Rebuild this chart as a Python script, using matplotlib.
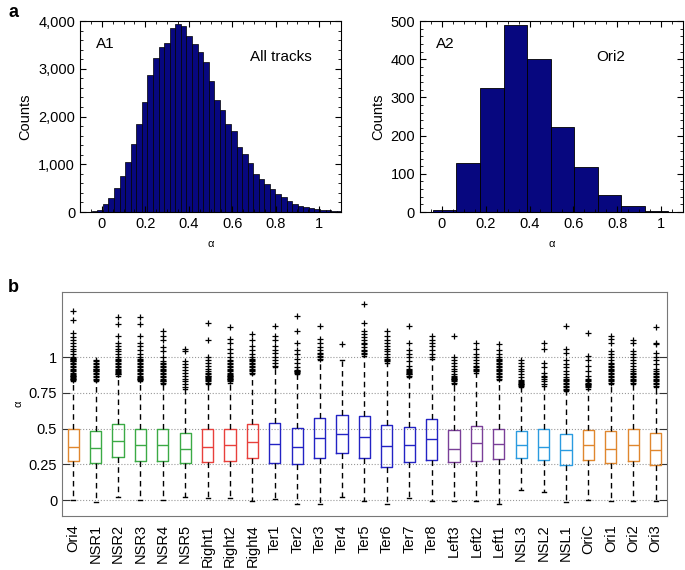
import matplotlib
matplotlib.use("Agg")
import matplotlib.pyplot as plt
from matplotlib.ticker import MultipleLocator, FuncFormatter
import numpy as np

plt.rcParams['font.family'] = ['Liberation Sans', 'DejaVu Sans']
plt.rcParams['font.size'] = 10.5

# ---- panel A1: all tracks histogram (bin width ~0.0256 from -0.046)
a1_counts = [15, 35, 175, 290, 500, 760, 1040, 1420, 1850, 2315, 2870, 3220, 3465, 3550,
             3850, 3930, 3890, 3690, 3530, 3345, 3150, 2750, 2350, 2140, 1850, 1700, 1370,
             1220, 1020, 800, 700, 585, 480, 385, 305, 225, 175, 120, 105, 85, 65, 50, 35, 28, 20]
a1_start, a1_width = -0.046, 0.0256

# ---- panel A2: Ori2 histogram
a2_counts = [6, 128, 325, 491, 400, 223, 118, 44, 17, 3]
a2_start, a2_width = -0.041, 0.1075

# ---- panel b: box statistics per locus
labels = ['Ori4', 'NSR1', 'NSR2', 'NSR3', 'NSR4', 'NSR5', 'Right1', 'Right2', 'Right4',
          'Ter1', 'Ter2', 'Ter3', 'Ter4', 'Ter5', 'Ter6', 'Ter7', 'Ter8', 'Left3', 'Left2',
          'Left1', 'NSL3', 'NSL2', 'NSL1', 'OriC', 'Ori1', 'Ori2', 'Ori3']
groups = ['ori', 'nsr', 'nsr', 'nsr', 'nsr', 'nsr', 'right', 'right', 'right',
          'ter', 'ter', 'ter', 'ter', 'ter', 'ter', 'ter', 'ter', 'left', 'left',
          'left', 'nsl', 'nsl', 'nsl', 'ori', 'ori', 'ori', 'ori']
q3 = [0.498, 0.487, 0.536, 0.501, 0.501, 0.471, 0.498, 0.497, 0.531, 0.538, 0.508, 0.577,
      0.594, 0.589, 0.529, 0.515, 0.570, 0.490, 0.517, 0.501, 0.483, 0.497, 0.462, 0.490,
      0.483, 0.497, 0.467]
med = [0.372, 0.365, 0.413, 0.386, 0.386, 0.360, 0.372, 0.386, 0.406, 0.395, 0.374, 0.432,
       0.460, 0.439, 0.381, 0.383, 0.425, 0.360, 0.397, 0.390, 0.386, 0.374, 0.349, 0.386,
       0.360, 0.386, 0.349]
q1 = [0.272, 0.260, 0.300, 0.277, 0.275, 0.260, 0.265, 0.275, 0.293, 0.259, 0.254, 0.293,
      0.328, 0.293, 0.231, 0.270, 0.282, 0.266, 0.277, 0.289, 0.296, 0.282, 0.247, 0.282,
      0.259, 0.275, 0.247]
whislo = [0.0, -0.01, 0.02, 0.0, 0.0, 0.025, 0.016, 0.014, -0.002, 0.007, -0.028, -0.028,
          0.02, -0.002, -0.023, 0.014, -0.002, -0.002, -0.002, -0.023, 0.07, 0.06, -0.01,
          0.005, -0.007, -0.002, -0.002]
whishi = [0.83, 0.83, 0.87, 0.83, 0.81, 0.78, 0.81, 0.82, 0.88, 0.93, 0.88, 0.98, 0.98,
          1.01, 0.96, 0.86, 0.99, 0.81, 0.89, 0.84, 0.79, 0.80, 0.76, 0.78, 0.81, 0.81, 0.79]
fliers = [
    [0.84, 0.845, 0.85, 0.855, 0.86, 0.865, 0.87, 0.875, 0.88, 0.89, 0.9, 0.91, 0.92, 0.93,
     0.94, 0.95, 0.96, 0.97, 0.975, 0.98, 0.985, 0.99, 0.995, 1.0, 1.02, 1.04, 1.06, 1.08,
     1.1, 1.12, 1.14, 1.17, 1.26, 1.32],
    [0.84, 0.85, 0.86, 0.87, 0.88, 0.89, 0.9, 0.905, 0.91, 0.915, 0.92, 0.93, 0.94, 0.95,
     0.96, 0.97, 0.98],
    [0.88, 0.885, 0.89, 0.895, 0.9, 0.91, 0.92, 0.93, 0.94, 0.95, 0.96, 0.97, 0.98, 0.99,
     1.0, 1.02, 1.04, 1.06, 1.08, 1.1, 1.15, 1.23, 1.28],
    [0.84, 0.845, 0.85, 0.855, 0.86, 0.87, 0.88, 0.89, 0.9, 0.91, 0.92, 0.93, 0.94, 0.95,
     0.96, 0.97, 0.98, 0.99, 1.0, 1.02, 1.05, 1.08, 1.1, 1.15, 1.23, 1.28],
    [0.82, 0.83, 0.835, 0.84, 0.85, 0.86, 0.87, 0.88, 0.89, 0.9, 0.91, 0.92, 0.93, 0.94,
     0.95, 0.96, 0.97, 1.0, 1.04, 1.07, 1.12, 1.15, 1.18],
    [0.79, 0.81, 0.83, 0.85, 0.87, 0.89, 0.91, 0.93, 0.95, 0.97, 1.04, 1.06],
    [0.82, 0.83, 0.84, 0.85, 0.855, 0.86, 0.865, 0.87, 0.88, 0.89, 0.9, 0.92, 0.94, 0.96,
     0.98, 1.0, 1.12, 1.24],
    [0.83, 0.84, 0.845, 0.85, 0.855, 0.86, 0.865, 0.87, 0.875, 0.88, 0.89, 0.9, 0.91, 0.92,
     0.93, 0.94, 0.95, 0.96, 0.97, 0.98, 1.0, 1.03, 1.06, 1.1, 1.13, 1.21],
    [0.89, 0.9, 0.91, 0.92, 0.93, 0.94, 0.95, 0.96, 0.97, 0.98, 0.99, 1.0, 1.02, 1.05, 1.08,
     1.12, 1.16],
    [0.94, 0.96, 0.98, 1.0, 1.03, 1.05, 1.08, 1.12, 1.15, 1.22],
    [0.89, 0.895, 0.9, 0.905, 0.91, 0.93, 0.96, 0.99, 1.02, 1.05, 1.1, 1.18, 1.29],
    [0.99, 1.0, 1.01, 1.02, 1.03, 1.05, 1.07, 1.1, 1.13, 1.22],
    [1.09],
    [1.02, 1.03, 1.04, 1.05, 1.07, 1.09, 1.1, 1.12, 1.14, 1.16, 1.18, 1.24, 1.37],
    [0.97, 0.98, 0.99, 1.0, 1.02, 1.04, 1.06, 1.08, 1.1, 1.12, 1.15, 1.18],
    [0.87, 0.88, 0.885, 0.89, 0.895, 0.9, 0.91, 0.92, 0.94, 0.97, 1.0, 1.02, 1.05, 1.1, 1.22],
    [1.0, 1.02, 1.05, 1.08, 1.1, 1.12, 1.15],
    [0.82, 0.83, 0.84, 0.845, 0.85, 0.855, 0.86, 0.87, 0.88, 0.9, 0.92, 0.94, 0.96, 0.98,
     1.0, 1.15],
    [0.9, 0.91, 0.92, 0.93, 0.94, 0.96, 0.98, 1.0, 1.02, 1.06, 1.1],
    [0.85, 0.86, 0.87, 0.88, 0.89, 0.9, 0.91, 0.92, 0.93, 0.94, 0.95, 0.96, 0.97, 0.98,
     0.99, 1.0, 1.02, 1.05, 1.09],
    [0.8, 0.805, 0.81, 0.815, 0.82, 0.825, 0.83, 0.84, 0.86, 0.88, 0.9, 0.92, 0.94, 0.96, 0.98],
    [0.81, 0.83, 0.85, 0.86, 0.87, 0.89, 0.93, 0.96, 1.06, 1.1],
    [0.77, 0.78, 0.79, 0.8, 0.81, 0.82, 0.83, 0.84, 0.85, 0.86, 0.88, 0.9, 0.93, 0.95, 0.98,
     1.03, 1.06, 1.22],
    [0.79, 0.8, 0.805, 0.81, 0.815, 0.82, 0.83, 0.84, 0.85, 0.87, 0.9, 0.94, 0.98, 1.01, 1.17],
    [0.82, 0.83, 0.84, 0.85, 0.86, 0.87, 0.88, 0.89, 0.9, 0.91, 0.92, 0.93, 0.94, 0.95,
     0.96, 0.98, 1.0, 1.02, 1.04, 1.1, 1.13, 1.15],
    [0.82, 0.83, 0.84, 0.85, 0.86, 0.87, 0.88, 0.89, 0.9, 0.92, 0.94, 0.96, 0.98, 1.0, 1.02,
     1.04, 1.1, 1.12],
    [0.8, 0.81, 0.82, 0.83, 0.84, 0.85, 0.86, 0.87, 0.88, 0.89, 0.9, 0.92, 0.95, 0.98, 1.0,
     1.03, 1.09, 1.1, 1.21],
]
group_colors = {'ori': '#E0872E', 'nsr': '#3BAA45', 'right': '#E8403C',
                'ter': '#2323C4', 'left': '#7A3F98', 'nsl': '#2A9BE0'}

navy = '#07077F'

fig = plt.figure(figsize=(6.85, 5.70), dpi=100)


def style_hist(ax, ymaj, ymin):
    ax.set_xlim(-0.1, 1.1)
    ax.xaxis.set_major_locator(MultipleLocator(0.2))
    ax.xaxis.set_minor_locator(MultipleLocator(0.05))
    ax.yaxis.set_major_locator(MultipleLocator(ymaj))
    ax.yaxis.set_minor_locator(MultipleLocator(ymin))
    ax.xaxis.set_major_formatter(FuncFormatter(lambda v, p: '{:g}'.format(round(v, 2))))
    ax.tick_params(which='both', direction='in', top=True, right=True)
    ax.tick_params(which='major', length=4)
    ax.tick_params(which='minor', length=2)
    ax.set_xlabel('α', fontsize=8, labelpad=6)
    ax.set_ylabel('Counts', fontsize=10.5)


# A1
ax1 = fig.add_axes([0.1168, 0.628, 0.381, 0.335])
e1 = a1_start + a1_width * np.arange(len(a1_counts))
ax1.bar(e1, a1_counts, width=a1_width, align='edge', color=navy, edgecolor='black', linewidth=0.5)
style_hist(ax1, 1000, 200)
ax1.set_ylim(0, 4000)
ax1.yaxis.set_major_formatter(FuncFormatter(lambda v, p: '{:,.0f}'.format(v)))
ax1.text(0.06, 0.86, 'A1', transform=ax1.transAxes, fontsize=11)
ax1.text(0.65, 0.79, 'All tracks', transform=ax1.transAxes, fontsize=11)

# A2
ax2 = fig.add_axes([0.613, 0.628, 0.384, 0.335])
e2 = a2_start + a2_width * np.arange(len(a2_counts))
ax2.bar(e2, a2_counts, width=a2_width, align='edge', color=navy, edgecolor='black', linewidth=0.6)
style_hist(ax2, 100, 20)
ax2.set_ylim(0, 500)
ax2.text(0.06, 0.86, 'A2', transform=ax2.transAxes, fontsize=11)
ax2.text(0.67, 0.79, 'Ori2', transform=ax2.transAxes, fontsize=11)

fig.text(0.012, 0.978, 'a', fontsize=13, fontweight='bold', va='center')
fig.text(0.012, 0.495, 'b', fontsize=13, fontweight='bold', va='center')

# b
ax3 = fig.add_axes([0.0905, 0.0947, 0.883, 0.393])
pos = np.arange(1, len(labels) + 1)
stats = []
for i in range(len(labels)):
    stats.append({'med': med[i], 'q1': q1[i], 'q3': q3[i], 'whislo': whislo[i],
                  'whishi': whishi[i], 'fliers': fliers[i], 'label': labels[i]})
bp = ax3.bxp(stats, positions=pos, widths=0.5, capwidths=0.18, showfliers=True,
             flierprops=dict(marker='+', markeredgecolor='black', markersize=5, markeredgewidth=0.9),
             whiskerprops=dict(color='black', linestyle=(0, (4, 3)), linewidth=1.0),
             capprops=dict(color='black', linewidth=1.0))
for i, g in enumerate(groups):
    c = group_colors[g]
    bp['boxes'][i].set_color(c)
    bp['boxes'][i].set_linewidth(1.0)
    bp['medians'][i].set_color(c)
    bp['medians'][i].set_linewidth(1.0)

ax3.set_xlim(0.5, len(labels) + 0.5)
ax3.set_ylim(-0.11, 1.455)
ax3.set_yticks([0, 0.25, 0.5, 0.75, 1])
ax3.set_yticklabels(['0', '0.25', '0.5', '0.75', '1'])
ax3.set_xticks(pos)
ax3.set_xticklabels(labels, rotation=90, fontsize=10.5)
ax3.tick_params(axis='x', length=0, pad=6)
ax3.tick_params(axis='y', direction='in', length=6, right=True, color='#333333')
ax3.yaxis.grid(True, linestyle=':', color='#999999', linewidth=0.8)
ax3.set_axisbelow(True)
for s in ax3.spines.values():
    s.set_color('#777777')
ax3.set_ylabel('α', fontsize=8, labelpad=4)

fig.savefig('out.png', dpi=100)
